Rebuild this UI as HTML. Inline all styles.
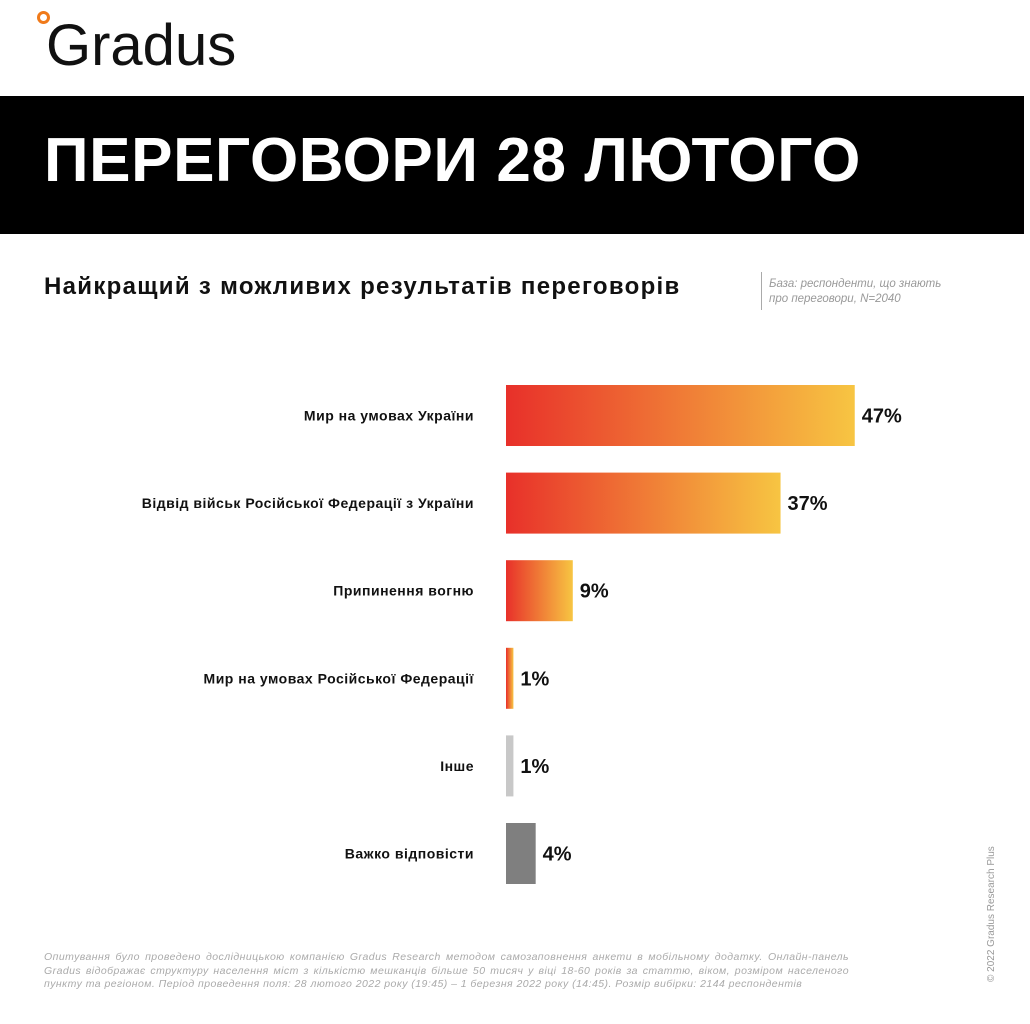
<!DOCTYPE html>
<html><head><meta charset="utf-8"><style>
html,body{margin:0;padding:0;background:#fff;}
body{width:1030px;height:1024px;position:relative;overflow:hidden;font-family:"Liberation Sans",sans-serif;}
</style></head><body>
<div style="position:absolute;left:46px;top:12px;font-size:58px;color:#111;letter-spacing:0px;">Gradus</div>
<div style="position:absolute;left:37px;top:11px;width:7px;height:7px;border-radius:50%;border:3px solid #f07a1a;"></div>
<div style="position:absolute;left:0;top:96px;width:1024px;height:138px;background:#000;"></div>
<div style="position:absolute;left:44px;top:125px;font-size:62px;font-weight:bold;color:#fff;white-space:nowrap;letter-spacing:0.6px;">ПЕРЕГОВОРИ 28 ЛЮТОГО</div>
<div style="position:absolute;left:44px;top:273px;font-size:24px;font-weight:bold;color:#111;white-space:nowrap;letter-spacing:1.3px;">Найкращий з можливих результатів переговорів</div>
<div style="position:absolute;left:761px;top:272px;width:1px;height:38px;background:#aaa;"></div>
<div style="position:absolute;left:769px;top:277px;font-size:11.5px;font-style:italic;color:#999;line-height:15px;">База: респонденти, що знають<br>про переговори, N=2040</div>
<svg id="chart" width="1030" height="1024" style="position:absolute;left:0;top:0;">
<defs><linearGradient id="g" x1="0" x2="1" y1="0" y2="0"><stop offset="0" stop-color="#e8302a"/><stop offset="1" stop-color="#f7c542"/></linearGradient></defs>
</svg>
<div style="position:absolute;left:44px;top:951px;width:805px;font-size:10.5px;font-style:italic;color:#aaa;line-height:13.5px;text-align:justify;letter-spacing:0.45px;">Опитування було проведено дослідницькою компанією Gradus Research методом самозаповнення анкети в мобільному додатку. Онлайн-панель Gradus відображає структуру населення міст з кількістю мешканців більше 50 тисяч у віці 18-60 років за статтю, віком, розміром населеного пункту та регіоном. Період проведення поля: 28 лютого 2022 року (19:45) – 1 березня 2022 року (14:45). Розмір вибірки: 2144 респондентів</div>
<div style="position:absolute;left:986px;top:982px;transform:rotate(-90deg);transform-origin:0 0;font-size:10px;color:#999;white-space:nowrap;">© 2022 Gradus Research Plus</div>
<script>
const categories=["Мир на умовах України","Відвід військ Російської Федерації з України","Припинення вогню","Мир на умовах Російської Федерації","Інше","Важко відповісти"];
const values=[47,37,9,1,1,4];
const labels=["47%","37%","9%","1%","1%","4%"];
const fills=["url(#g)","url(#g)","url(#g)","url(#g)","#c8c8c8","#7f7f7f"];
const svg=document.getElementById('chart');
const NS="http://www.w3.org/2000/svg";
const x0=506, pxPer=7.42, yTop=385, step=87.6, bh=61;
const xs=v=>v*pxPer;
categories.forEach((c,i)=>{
  const y=yTop+i*step, w=Math.max(xs(values[i]),7);
  const r=document.createElementNS(NS,'rect');
  r.setAttribute('x',x0);r.setAttribute('y',y);r.setAttribute('width',w);r.setAttribute('height',bh);r.setAttribute('fill',fills[i]);
  
  
  svg.appendChild(r);
  const t=document.createElementNS(NS,'text');
  t.setAttribute('x',474);t.setAttribute('y',y+bh/2+5);t.setAttribute('text-anchor','end');
  t.setAttribute('font-size','14');t.setAttribute('font-weight','bold');t.setAttribute('fill','#111');
  t.setAttribute('letter-spacing','0.5');
  t.textContent=c;
  
  
  svg.appendChild(t);
  const v=document.createElementNS(NS,'text');
  v.setAttribute('x',x0+w+7);v.setAttribute('y',y+bh/2+7);
  v.setAttribute('font-size','20');v.setAttribute('font-weight','bold');v.setAttribute('fill','#111');
  v.textContent=labels[i];
  
  
  svg.appendChild(v);
});
</script>
</body></html>
